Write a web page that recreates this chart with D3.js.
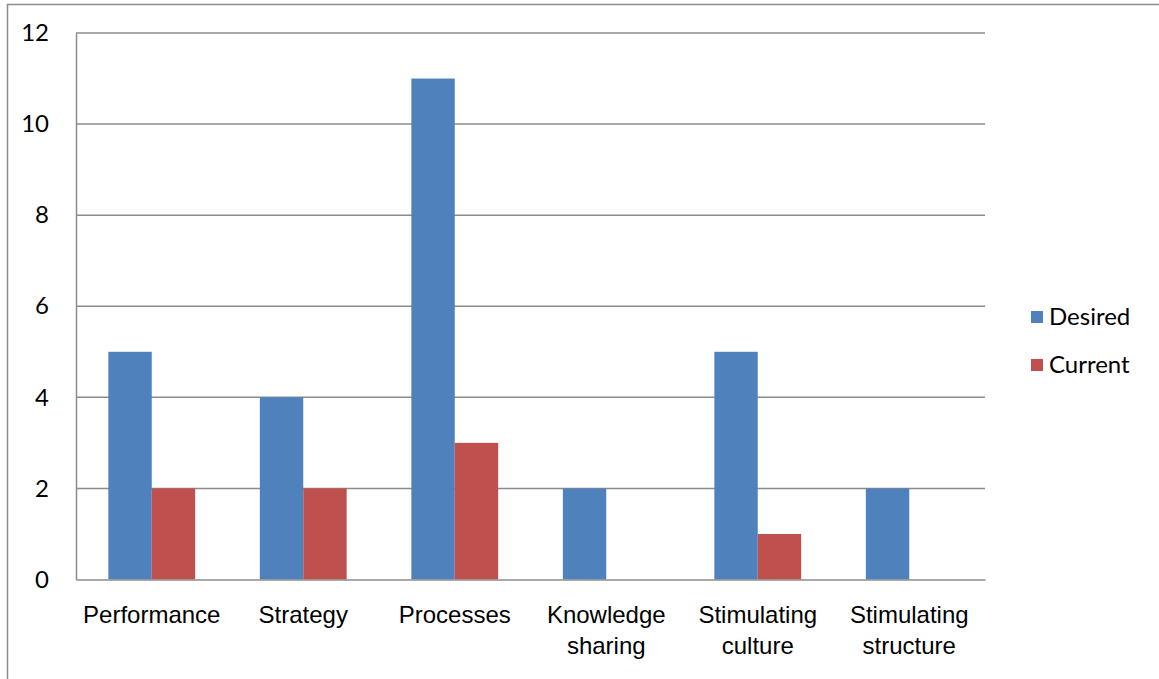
<!DOCTYPE html>
<html>
<head>
<meta charset="utf-8">
<script src="https://cdn.jsdelivr.net/npm/d3@7"></script>
<style>
  body { margin: 0; background: #fff; }
  svg { display: block; font-family: Lato, "Open Sans", sans-serif; }
</style>
</head>
<body>
<div id="chart"></div>
<script>
const categories = [
  ["Performance"],
  ["Strategy"],
  ["Processes"],
  ["Knowledge", "sharing"],
  ["Stimulating", "culture"],
  ["Stimulating", "structure"]
];
const seriesNames = ["Desired", "Current"];
const desired = [5, 4, 11, 2, 5, 2];
const current = [2, 2, 3, 0, 1, 0];
const yTicks = [0, 2, 4, 6, 8, 10, 12];
const colors = ["#4F81BD", "#C0504D"];

const w = 1159;
const h = 679;
const plotLeft = 76, plotRight = 985, plotTop = 33, plotBottom = 579.5;
const fontSize = 24;

const svg = d3.select("#chart")
  .append("svg")
  .attr("width", w)
  .attr("height", h);

// outer chart border
svg.append("rect")
  .attr("x", 7.5)
  .attr("y", 4.5)
  .attr("width", w + 20)
  .attr("height", h + 20)
  .attr("fill", "none")
  .attr("stroke", "#8c8c8c")
  .attr("stroke-width", 1.5);

const x0 = d3.scaleBand()
  .domain(d3.range(categories.length))
  .range([plotLeft, plotRight])
  .paddingInner(0.427)
  .paddingOuter(0.2135);

const x1 = d3.scaleBand()
  .domain(seriesNames)
  .range([0, x0.bandwidth()]);

const y = d3.scaleLinear()
  .domain([0, 12])
  .range([plotBottom, plotTop]);

// gridlines
svg.append("g")
  .selectAll("line")
  .data(yTicks.filter(d => d > 0))
  .enter()
  .append("line")
  .attr("x1", plotLeft)
  .attr("x2", plotRight)
  .attr("y1", d => y(d))
  .attr("y2", d => y(d))
  .attr("stroke", "#8c8c8c")
  .attr("stroke-width", 1.5);

// bars
const values = [desired, current];
categories.forEach((c, i) => {
  seriesNames.forEach((s, j) => {
    const v = values[j][i];
    if (v <= 0) return;
    svg.append("rect")
      .attr("x", x0(i) + x1(s))
      .attr("y", y(v))
      .attr("width", x1.bandwidth())
      .attr("height", y(0) - y(v))
      .attr("fill", colors[j]);
  });
});

// y axis
const yAxis = d3.axisLeft(y).tickValues(yTicks).tickSize(0).tickPadding(27);
const gy = svg.append("g")
  .attr("transform", `translate(${plotLeft}, 0)`)
  .call(yAxis);
gy.select(".domain").attr("stroke", "#8c8c8c").attr("stroke-width", 1.5);
gy.selectAll("text").attr("font-size", fontSize).attr("fill", "#000").attr("font-family", "Lato, sans-serif");

// x axis
const xAxis = d3.axisBottom(x0).tickSize(0).tickFormat("");
const gx = svg.append("g")
  .attr("transform", `translate(0, ${plotBottom})`)
  .call(xAxis);
gx.select(".domain").attr("stroke", "#8c8c8c").attr("stroke-width", 1.5);

gx.selectAll(".tick")
  .append("text")
  .attr("text-anchor", "middle")
  .attr("font-size", fontSize)
  .attr("fill", "#000")
  .selectAll("tspan")
  .data(d => categories[d])
  .enter()
  .append("tspan")
  .attr("x", 0)
  .attr("y", (d, k) => 35.5 + k * 31)
  .attr("dy", "0.35em")
  .text(d => d);

// legend
const legend = svg.append("g");
seriesNames.forEach((s, j) => {
  const ly = 317 + j * 48;
  legend.append("rect")
    .attr("x", 1031)
    .attr("y", ly - 6)
    .attr("width", 12)
    .attr("height", 12)
    .attr("fill", colors[j]);
  legend.append("text")
    .attr("x", 1049)
    .attr("y", ly)
    .attr("dy", "0.35em")
    .attr("font-size", fontSize)
    .text(s);
});
</script>
</body>
</html>
